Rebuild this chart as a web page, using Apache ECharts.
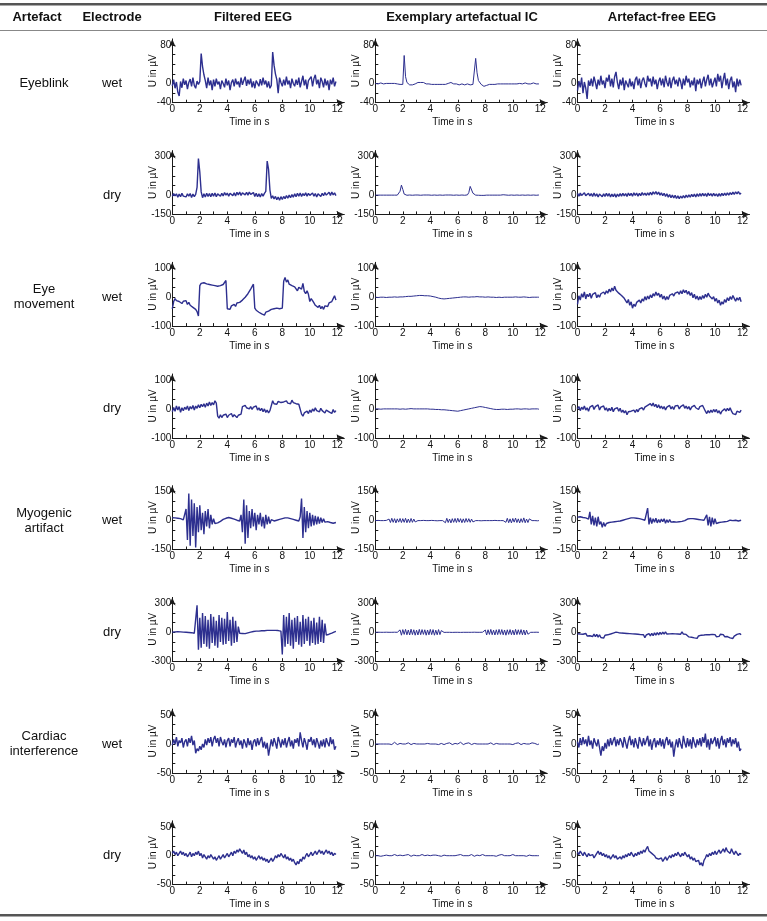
<!DOCTYPE html>
<html>
<head>
<meta charset="utf-8">
<script src="https://cdn.jsdelivr.net/npm/echarts@6/dist/echarts.min.js"></script>
<style>
html,body{margin:0;padding:0;background:#fff;}
#chart{width:767px;height:921px;}
</style>
</head>
<body>
<div id="chart"></div>
<script>
// ---------------- DATA ----------------
const STEP = 0.1; // seconds between samples
const columnTitles = ['Filtered EEG', 'Exemplary artefactual IC', 'Artefact-free EEG'];
const artefactLabels = [['Eyeblink'], ['Eye', 'movement'], ['Myogenic', 'artifact'], ['Cardiac', 'interference']];
const electrodeLabels = ['wet', 'dry', 'wet', 'dry', 'wet', 'dry', 'wet', 'dry'];
const yMin = [-40, -150, -100, -100, -150, -300, -50, -50];
const yMax = [80, 300, 100, 100, 150, 300, 50, 50];
const xTickValues = [0,1,2,3,4,5,6,7,8,9,10,11,12];
const xLabelValues = [0,2,4,6,8,10,12];

const blinkWetEEG = [
 -5, 8, -10, 3, -18, -26, 4, -9, 10, -3,
 6, -12, 2, 9, -6, 12, -4, -10, 5, -2,
 4, 62, 35, 18, 6, -10, 12, -4, 6, -14,
 8, -6, 10, -2, 4, -12, 6, 0, -8, 10,
 -4, 6, -14, 2, 8, -6, 10, -2, 4, -8,
 12, -3, 6, 14, -5, 8, -2, 10, -8, 4,
 -10, 6, 2, -6, 9, -4, 12, -2, 6, -8,
 4, -10, -4, 65, 38, 20, 8, -20, 12, 2,
 -6, 8, -4, 14, -2, 6, -10, 10, 0, -6,
 8, -3, 12, -8, 4, 16, -4, 8, -12, 6,
 2, 14, -6, 10, 18, -2, 8, -10, 12, 4,
 -8, 10, -4, 6, -14, 8, -2, 12, -6, 4];
const blinkWetIC = [
 0, 1, -1, 0, 1, 0, -1, 1, 0, -1,
 0, 1, 0, -1, 0, 1, -1, 0, -2, -3,
 -2, 58, 14, 2, -2, -3, -2, -3, -2, -1,
 0, 2, 3, 2, 1, 2, 0, -1, -2, -1,
 -2, -2, -1, -2, -3, -2, -1, -2, -3, -2,
 -1, -2, -1, 0, 1, 2, 0, -1, -2, -1,
 -2, -3, -2, -1, -2, -3, -2, -1, -2, -3,
 -1, -2, -3, 52, 22, 6, 2, -2, -5, -6,
 -5, -4, -3, -2, -3, -2, -1, -2, -3, -1,
 -2, -1, -2, -1, 0, -1, -2, -1, 0, -1,
 -2, -1, 0, -1, -2, 0, -1, -1, 0, 1,
 0, -1, 0, -1, 0, 1, 0, -1, 0, -1];
const blinkWetClean = [
 -15, 5, -8, 12, -20, 3, -10, -32, 6, -5,
 10, -6, 14, 2, -12, 8, -4, 16, -2, 6,
 -10, 12, 4, 18, -6, 10, -8, 14, 24, 2,
 -12, 8, -4, 12, -14, 6, 2, -8, 10, -6,
 4, -12, 8, 14, -4, 10, -10, 6, 12, 0,
 -8, 16, 4, 10, -6, 14, -2, 8, -12, 4,
 12, -4, 10, -8, 16, 2, -6, 12, -10, 6,
 14, -2, 8, -6, 12, 4, -12, 10, -4, 16,
 2, 10, -8, 6, -4, 12, -16, 8, -2, 10,
 -10, 4, 14, -6, 8, 18, -4, 10, -8, 2,
 12, -6, 20, 4, 16, -10, 8, 22, -4, 10,
 -12, 6, 14, -8, 4, -18, 10, -6, 8, -4];

const blinkDryEEG = [
 -10, 12, -6, 10, -16, 8, -12, 14, -8, 6,
 -14, 10, -8, 12, -18, 8, -12, 6, 60, 285,
 180, 25, -20, 10, -14, 14, -10, 12, -12, 14,
 -8, 16, -12, 10, 18, -8, 14, -6, 20, 0,
 16, -8, 14, 20, -4, 18, -6, 22, 2, 24,
 -2, 18, 24, 2, 22, 0, 24, 6, -4, 20,
 -10, 14, -12, 10, -14, 12, -8, 14, 30, 265,
 200, 40, -25, -5, -30, -10, -35, -15, -40, -12,
 -34, -10, -28, -4, -24, 0, -20, 4, -16, 10,
 -12, 14, -8, 16, -10, 12, -4, 18, -8, 14,
 -2, -12, 16, -8, 12, -14, 10, 18, -10, 14,
 -4, 20, 0, -10, 22, -2, 24, 2, 18, -4];
const blinkDryIC = [
 0, 1, 0, -1, 0, 1, 0, -1, 0, 1,
 0, -1, 0, 1, 0, -1, 0, 2, 30, 78,
 45, 8, 0, -1, 0, 1, 0, -1, 0, 1,
 0, 1, 0, -1, 0, 1, 2, 1, 0, 1,
 0, -1, 0, 1, 0, -1, 0, 1, 0, -1,
 0, 1, 0, 1, 2, 1, 0, -1, 0, 1,
 0, -1, 0, 1, 0, -1, 0, 2, 20, 68,
 55, 15, 2, 0, -2, -1, -3, -2, -1, -2,
 -1, 0, -1, 0, 1, 0, -1, 0, 1, 0,
 -1, 0, 1, 3, 2, 1, 0, -1, 0, 1,
 0, -1, 0, 1, 0, -1, 0, 1, 0, -1,
 0, 1, 0, -1, 0, 1, 0, -1, 0, 1];
const blinkDryClean = [
 14, -8, 16, -2, -10, 18, -4, -12, 14, -6,
 12, -10, 16, -8, 10, -14, 8, 12, -12, 10,
 -10, 14, -8, 12, -14, 8, -12, 10, -16, 8,
 -10, 12, -8, 14, -6, 12, -10, 16, -4, 14,
 -8, 18, -2, 16, -8, 14, -4, 20, 0, 16,
 -2, 18, 0, 22, 2, 26, 8, 28, 6, 24,
 0, 18, -4, 14, -10, 10, -16, 4, -20, 0,
 -22, -2, -26, -6, -28, -8, -24, -4, -22, 0,
 -18, 2, -16, 6, -12, 8, -14, 10, -10, 12,
 -8, 14, -6, 12, -10, 16, -4, 12, -8, 14,
 -6, 10, -10, 12, -8, 14, -4, 16, -2, 18,
 0, 20, 4, 24, 6, 26, 10, 28, 8, 16];

const moveWetEEG = [
 -40, -15, -5, -12, -8, -15, -10, -22, -14, -20,
 -12, -25, -18, -28, -22, -35, -30, -42, -50, -65,
 40, 48, 42, 50, 44, 46, 40, 44, 38, 42,
 36, 40, 34, 38, 32, 40, 36, 44, 48, 58,
 -40, -35, -42, -30, -36, -25, -32, -20, -26, -18,
 -22, -10, -14, 0, 6, 12, 20, 28, 34, 45,
 -38, -45, -40, -52, -48, -58, -55, -62, -52, -58,
 -48, -52, -42, -48, -40, -46, -38, -44, -40, -45,
 -38, 55, 68, 52, 60, 45, 50, 40, 44, 36,
 30, 22, 34, 40, 28, 48, 20, 12, 22, 10,
 -15, -5, -12, -20, -28, -22, -35, -28, -40, -32,
 -42, -30, -25, -32, -20, -26, -15, -5, 5, -10];
const moveWetIC = [
 0, 0, -1, 0, 0, 1, 0, 0, -1, 0,
 0, 1, 0, 0, 1, 0, 0, 1, 1, 1,
 1, 2, 2, 2, 3, 3, 3, 4, 4, 5,
 5, 5, 6, 6, 6, 6, 5, 5, 5, 4,
 4, 3, 2, 1, 0, -2, -3, -4, -5, -5,
 -6, -5, -5, -4, -4, -3, -3, -2, -2, -2,
 -1, -1, 0, 0, 1, 0, 1, 1, 0, 1,
 1, 2, 1, 1, 2, 1, 1, 2, 1, 1,
 0, 1, 1, 0, 0, 1, 0, 0, -1, 0,
 0, 0, -1, 0, 0, 1, 0, 0, 0, -1,
 0, 0, 1, 0, 0, -1, 0, 0, 1, 0,
 0, 0, -1, 0, 0, 1, 0, 0, 0, 0];
const moveWetClean = [
 -25, 5, -10, 12, 0, 18, -6, 10, 2, 14,
 -4, 10, 4, 16, -2, 8, 0, 12, 6, 18,
 10, 22, 14, 28, 18, 32, 22, 38, 24, 30,
 14, 20, 6, 10, -4, -12, -20, -8, -28, -16,
 -38, -24, -32, -18, -24, -10, -20, -6, -14, 2,
 -10, 4, -6, 8, -2, 12, 4, 18, 6, 14,
 0, 10, -6, 4, -10, 2, -8, 6, 0, 12,
 4, 14, 8, 18, 10, 22, 12, 26, 16, 24,
 10, 20, 6, 16, -2, 10, -6, 4, -10, 2,
 -8, 6, -4, 10, 0, 14, 4, 8, -6, 2,
 -14, -4, -20, -10, -28, -16, -24, -8, -18, -2,
 -12, 2, -8, 6, -4, -14, -2, -10, 0, -16];

const moveDryEEG = [
 -10, 5, -8, 10, -4, 8, -12, 4, -6, 6,
 -2, 10, -6, 8, 0, 12, -4, 10, 2, 14,
 4, 16, 8, 18, 6, 20, 10, 24, 12, 22,
 14, 28, 20, -25, -32, -20, -30, -22, -28, -18,
 -30, -22, -26, -16, -28, -20, -24, -30, -22, -26,
 -18, 8, 2, 12, 4, 10, 0, 8, -2, 6,
 2, 10, -4, 4, -6, 2, -10, 0, -12, -4,
 -14, -6, -10, 28, 18, 24, 16, 26, 20, 22,
 16, 24, 18, 28, 20, 26, 18, 30, 22, 26,
 18, 24, 16, 22, -18, -25, -14, -20, -8, -16,
 -4, -12, 0, -8, 4, -6, -2, -10, 2, -6,
 -2, -14, -4, 2, -10, -4, -16, -2, -12, -6];
const moveDryIC = [
 0, 1, 0, 0, -1, 0, 0, 1, 0, 0,
 0, -1, 0, 0, 0, 1, 0, 0, -1, 0,
 0, 0, -1, 0, 0, 0, 1, 0, 0, 0,
 0, 1, 0, 0, 0, -1, 0, 0, 0, -1,
 -1, 0, -1, -1, -2, -1, -2, -2, -3, -2,
 -3, -3, -4, -4, -5, -5, -6, -6, -7, -8,
 -8, -7, -6, -5, -4, -3, -2, -1, 0, 1,
 2, 3, 4, 5, 6, 7, 8, 8, 7, 6,
 5, 4, 3, 2, 1, 0, -1, -1, -2, -1,
 -2, -2, -1, -2, -1, -1, -2, -1, -1, 0,
 -1, -1, 0, -1, 0, 0, -1, 0, 0, -1,
 0, 0, -1, 0, 0, -1, 0, 0, 0, -1];
const moveDryClean = [
 0, 8, -6, 6, -2, 10, -4, 4, -8, 6,
 2, 12, -2, 8, 4, 14, -4, 6, 0, 10,
 -4, 4, -8, 2, -6, 6, -10, 0, -6, 4,
 -8, 2, -12, -4, -14, -6, -20, -10, -16, -8,
 -14, -4, -12, -2, -10, 0, -6, 4, -4, 6,
 2, 12, 6, 18, 10, 20, 8, 16, 4, 14,
 2, 10, 0, 8, -4, 6, 2, 12, 0, 8,
 -2, 10, 4, 12, 0, 8, 4, 14, 2, 10,
 0, 8, -4, 6, 2, 12, 4, 10, -2, 8,
 2, 12, 6, -8, -16, -6, -14, -4, -12, -2,
 -10, -2, -14, -6, -18, -8, -12, 0, -8, 2,
 -6, 4, -8, -16, -10, -20, -8, -2, -12, -4];

const myoWetEEG = [
 15, 12, 14, 10, 12, 8, 10, 6, 4, 2,
 60, -100, 140, -130, 110, -80, 90, -140, 70, -60,
 80, -50, 40, -70, 50, -30, 60, -40, 30, -20,
 10, -15, -10, -12, -8, -4, 2, 6, 10, 12,
 14, 16, 14, 12, 10, 8, 6, 2, 0, -2,
 30, -60, 110, -120, 80, -90, 50, -40, 60, -30,
 40, -50, 30, -20, 40, -30, 20, -40, 30, -20,
 20, -15, 5, -5, -2, 0, 2, 4, 6, 8,
 10, 12, 14, 16, 14, 12, 10, 8, 6, 4,
 2, 0, -2, 20, 115, -90, 70, -60, 50, -40,
 40, -30, 30, -25, 25, -20, 20, -15, 15, -10,
 10, -8, -2, -5, -8, -10, -12, -14, -12, -10];
const myoWetIC = [
 0, 0, 1, 0, 0, -1, 0, 0, 1, 0,
 8, -10, 12, -9, 10, -12, 9, -8, 11, -10,
 10, -9, 12, -11, 8, -10, 11, -9, 8, -7,
 0, 0, -1, 0, 0, 1, 0, 0, -1, 0,
 0, 1, 0, 0, 0, -1, 0, 0, 1, 0,
 9, -11, 12, -10, 8, -12, 10, -9, 11, -10,
 12, -8, 10, -11, 9, -10, 11, -8, 10, -9,
 8, -7, 0, 0, 1, 0, 0, -1, 0, 0,
 1, 0, 0, 0, -1, 0, 0, 1, 0, 0,
 0, 0, -1, 0, 10, -9, 12, -11, 9, -12,
 11, -8, 13, -10, 9, -12, 10, -9, 14, -11,
 8, -10, 9, 0, 0, 1, 0, 0, -1, 0];
const myoWetClean = [
 18, 16, 20, 14, 16, 12, 14, 10, 8, 45,
 -20, 25, -25, 15, -30, 20, -20, -5, -35, -10,
 -30, -15, -25, -10, -20, -8, -14, -6, -10, -4,
 -8, -2, 0, 2, 4, 6, 8, 10, 12, 14,
 16, 14, 16, 12, 14, 10, 8, 6, 4, 2,
 0, 65, -20, 15, -15, 10, -8, 12, -12, 6,
 -10, 8, -6, 10, -14, 4, -10, 6, -8, 2,
 -6, -4, -8, -2, -6, 0, -4, 2, 0, 4,
 8, 12, 10, 14, 10, 16, 8, 12, 6, 10,
 4, 8, 2, -5, 30, -25, 20, -30, 15, -20,
 10, -15, -5, -10, -2, -8, 0, -6, 2, -4,
 -2, 2, -4, 0, -2, 2, -4, -2, 0, 2];

const myoDryEEG = [
 0, 2, 4, 3, 5, 2, 4, 0, 2, -2,
 0, -4, -2, -6, -4, -8, -10, -8, 280, -180,
 150, -160, 200, -120, 170, -150, 130, -170, 190, -110,
 160, -140, 120, -160, 180, -100, 150, -130, 140, -120,
 210, -90, 130, -140, 160, -110, 120, -100, 60, -10,
 -15, -12, -18, -14, -10, -6, -2, 2, 6, 8,
 10, 12, 10, 12, 14, 16, 14, 16, 18, 20,
 18, 20, 22, 20, 18, 20, 22, 18, 16, 12,
 -230, 180, -150, 160, -120, 200, -140, 130, -170, 150,
 -100, 170, -130, 110, -150, 180, -120, 140, -90, 160,
 -140, 120, -110, 150, -130, 100, -120, 160, -100, 130,
 -110, 90, -30, -25, -20, -15, -8, -2, 5, 10];
const myoDryIC = [
 0, 0, 1, 0, 0, -1, 0, 0, 1, 0,
 0, -1, 0, 0, 1, 0, 0, 0, 25, -30,
 28, -22, 30, -26, 24, -28, 32, -24, 26, -30,
 22, -28, 30, -25, 28, -22, 26, -30, 24, -26,
 30, -24, 28, -30, 22, -26, 28, -24, 18, 0,
 -1, 0, 0, 1, 0, 0, -1, 0, 0, 1,
 0, 0, -1, 0, 0, 1, 0, 0, 0, -1,
 0, 0, 1, 0, 0, -1, 0, 0, 1, 0,
 24, -28, 26, -22, 30, -25, 22, -28, 26, -24,
 30, -22, 28, -26, 24, -30, 26, -22, 28, -25,
 22, -28, 30, -24, 26, -22, 28, -26, 24, -28,
 22, -20, 0, 0, -1, 0, 0, 1, 0, 0];
const myoDryClean = [
 -15, -30, -18, -34, -20, -36, -12, -38, -22, -36,
 -20, -44, -18, -46, -22, -50, -26, -54, -42, -60,
 -30, -46, -26, -36, -18, -28, -8, -20, 2, -14,
 -4, -24, -8, -28, -10, -26, -12, -32, -14, -30,
 -16, -34, -18, -38, -20, -40, -24, -44, -26, -55,
 -28, -42, -14, -38, -10, -34, -6, -30, -2, -26,
 0, -22, 2, -20, 4, -18, 2, -16, 0, -14,
 2, -16, 0, -18, -2, -20, 4, -18, 0, -22,
 -10, -48, -36, -52, -40, -58, -42, -62, -38, -52,
 -30, -48, -28, -42, -24, -44, -26, -40, -22, -42,
 -24, -46, -26, -42, -20, -40, -24, -46, -28, -44,
 -32, -58, -44, -64, -40, -50, -22, -40, -14, -26];

const cardWetEEG = [
 -2, 8, 0, 12, -4, 6, 2, 10, -6, 4,
 8, -4, 10, 2, 14, -2, 6, -16, -8, -12,
 -4, -10, 0, -6, 8, -2, 10, 2, 12, -4,
 8, 14, 2, 10, -4, 12, 4, -2, 8, -6,
 6, 10, -4, 8, 2, 12, -6, 4, 10, -2,
 6, -8, 8, 2, -6, 10, -2, 6, -10, 4,
 8, -4, 10, -2, 6, 12, -6, 4, -8, 2,
 -20, -6, 8, -4, 10, 2, -8, 12, 4, -6,
 8, -2, 10, -6, 4, 12, -4, 6, -8, 8,
 2, 10, -4, 20, 6, -6, 10, 2, -10, 8,
 4, 12, -2, 8, -6, 10, 2, -8, 6, -4,
 8, -6, 10, 2, -4, 12, 0, 8, -10, -4];
const cardWetIC = [
 0, 1, 0, -1, 0, 2, 0, -1, 0, 1,
 0, 1, -1, 0, 3, 0, -1, 0, 1, -1,
 0, 1, 0, -1, 2, 0, -1, 0, 1, 0,
 0, 1, 0, 2, 0, 3, 0, -1, 1, 0,
 0, -1, 0, 1, 0, 2, -1, 0, 1, 0,
 -1, 0, 1, 0, 2, 0, -1, 0, 1, 0,
 0, 1, 3, 0, -1, 0, 1, 0, 2, 0,
 -1, 0, 1, 0, 0, 2, 0, -1, 0, 1,
 0, -1, 0, 1, 2, 0, -1, 0, 1, 0,
 0, 1, 0, 2, 0, -1, 0, 1, 0, 0,
 -1, 0, 1, 0, 2, 0, -1, 0, 1, 0,
 0, 1, 0, -1, 2, 0, 1, 0, -1, 0];
const cardWetClean = [
 4, -6, 10, -2, 12, 0, 8, -4, 14, -2,
 6, -8, 10, 2, -4, 8, -6, -20, -4, -12,
 2, -8, 8, -4, 10, -2, 6, 12, -4, 8,
 -2, 10, 4, -6, 12, 2, -8, 6, 14, -2,
 8, -6, 10, 0, -8, 12, 4, -4, 10, -2,
 6, 14, -4, 8, -10, 4, 10, -6, 6, -2,
 10, -4, 8, -8, 6, 12, -2, 8, -6, 4,
 -22, -4, 8, -6, 10, 0, -8, 14, 2, -6,
 10, -4, 8, -8, 12, 2, -6, 8, -2, 10,
 -4, 12, 2, 18, -6, 8, -10, 10, 0, 6,
 12, -4, 10, -8, 6, 14, -2, 8, -6, 10,
 2, 12, -4, 8, 0, 10, -6, 4, -12, -8];

const cardDryEEG = [
 4, 8, 2, 6, 0, 4, 8, 2, 6, 0,
 4, -2, 2, 6, -2, 4, 0, 6, 2, 8,
 0, 4, -4, 2, -2, -6, 0, -4, 2, -2,
 -6, -2, -8, -4, 0, -6, -2, 2, -4, 0,
 4, -2, 2, 6, 0, 8, 4, 10, 6, 12,
 8, 4, 10, 2, 6, -2, 2, -4, 0, -6,
 -2, -8, -4, 0, -6, -2, -8, -4, -10, -6,
 -12, -8, -4, -10, -6, 0, -4, 2, -2, 4,
 0, -4, 2, -6, -2, -8, -4, -10, -6, -12,
 -16, -10, -14, -6, -10, -2, -6, 0, 4, -2,
 2, 6, 0, 4, 8, 2, 6, 10, 4, 8,
 2, 6, 10, 4, 8, 2, 6, 0, 4, 2];
const cardDryIC = [
 0, 1, 0, 0, -1, 1, 0, 0, 1, 0,
 0, 1, 0, -1, 2, 0, 0, -1, 1, 0,
 0, 0, 1, 0, 2, 0, -1, 0, 1, 0,
 0, 1, 0, 0, 2, 0, 0, -1, 1, 0,
 0, 0, 1, 0, 1, 2, 0, 0, -1, 0,
 1, 0, 0, 2, 0, -1, 0, 1, 0, 0,
 1, 0, 2, 0, 0, -1, 0, 1, 0, 0,
 2, 0, -1, 0, 1, 0, 0, 1, 2, 0,
 0, -1, 0, 1, 0, 2, 0, 0, -1, 0,
 1, 0, 2, 0, 0, -1, 0, 1, 0, 0,
 2, 0, 0, -1, 0, 1, 0, 2, 0, 0,
 -1, 0, 1, 0, 0, 2, 0, -1, 0, 0];
const cardDryClean = [
 6, 2, 8, 4, 0, 6, 2, -2, 4, 0,
 -2, 2, -4, 0, 4, 8, 2, 6, 0, 4,
 -2, 2, -4, 0, -6, -2, 2, -4, 0, -6,
 -8, -2, -6, 0, -4, 2, -2, 4, 0, 6,
 2, -2, 4, 0, 6, 2, 8, 4, 10, 6,
 12, 16, 8, 10, 4, 6, 0, -4, -2, -6,
 -8, -4, -10, -6, -2, -8, -4, 0, -4, 2,
 -2, 4, 0, 6, 2, -2, 4, 0, 6, 2,
 -2, 2, -6, -2, -8, -4, -10, -12, -8, -16,
 -12, -18, -8, -4, 2, -2, 4, 0, 6, 2,
 8, 2, 6, 10, 4, 8, 12, 6, 14, 8,
 10, 4, 12, 6, 2, 8, 4, 0, 4, 2];

const signals = [
  [blinkWetEEG, blinkWetIC, blinkWetClean],
  [blinkDryEEG, blinkDryIC, blinkDryClean],
  [moveWetEEG, moveWetIC, moveWetClean],
  [moveDryEEG, moveDryIC, moveDryClean],
  [myoWetEEG, myoWetIC, myoWetClean],
  [myoDryEEG, myoDryIC, myoDryClean],
  [cardWetEEG, cardWetIC, cardWetClean],
  [cardDryEEG, cardDryIC, cardDryClean]
];

// ---------------- LAYOUT ----------------
const FONT = '"Liberation Sans", Arial, Helvetica, sans-serif';
const LINE_COLOR = '#2d2f8f';
const AXIS_COLOR = '#1a1a1a';
const BASE0 = 102.7, ROW_STEP = 111.7, PLOT_H = 57.8, PLOT_W = 165;
const COL_X = [172.3, 375.3, 577.5];
const XEXT = 7, YEXT = 6;

const grids = [], xAxes = [], yAxes = [], series = [];
for (let r = 0; r < 8; r++) {
  const bottom = BASE0 + ROW_STEP * r;
  const range = yMax[r] - yMin[r];
  const yInt = range / 6;
  const yTicks = [];
  for (let k = 0; k <= 6; k++) yTicks.push(yMin[r] + k * yInt);
  for (let c = 0; c < 3; c++) {
    const idx = grids.length;
    grids.push({left: COL_X[c], top: bottom - PLOT_H - YEXT, width: PLOT_W + XEXT, height: PLOT_H + YEXT, containLabel: false});
    xAxes.push({
      gridIndex: idx, type: 'value', min: 0, max: 12 * (PLOT_W + XEXT) / PLOT_W,
      axisLine: {show: true, onZero: false, symbol: ['none', 'arrow'], symbolSize: [5, 8], lineStyle: {color: AXIS_COLOR, width: 1}},
      axisTick: {show: true, inside: true, length: 3, customValues: xTickValues, lineStyle: {color: AXIS_COLOR, width: 1}},
      axisLabel: {customValues: xLabelValues, margin: 2, fontSize: 10, color: '#111', fontFamily: FONT},
      splitLine: {show: false},
      name: 'Time in s', nameLocation: 'middle', nameGap: 15, nameMoveOverlap: false,
      nameTextStyle: {fontSize: 10, color: '#111', fontFamily: FONT, padding: [0, 18, 0, 0]}
    });
    yAxes.push({
      gridIndex: idx, type: 'value', min: yMin[r], max: yMax[r] + range * YEXT / PLOT_H,
      axisLine: {show: true, onZero: false, symbol: ['none', 'arrow'], symbolSize: [5, 8], lineStyle: {color: AXIS_COLOR, width: 1}},
      axisTick: {show: true, inside: true, length: 3, customValues: yTicks, lineStyle: {color: AXIS_COLOR, width: 1}},
      axisLabel: {customValues: [yMin[r], 0, yMax[r]], margin: 1, fontSize: 10, color: '#111', fontFamily: FONT,
        formatter: v => String(Math.round(v))},
      splitLine: {show: false},
      name: 'U in µV', nameLocation: 'middle', nameGap: 14, nameMoveOverlap: false,
      nameTextStyle: {fontSize: 10, color: '#111', fontFamily: FONT}
    });
    series.push({
      type: 'line', xAxisIndex: idx, yAxisIndex: idx,
      data: signals[r][c].map((v, i) => [Math.round(i * STEP * 100) / 100, v]),
      showSymbol: false, symbol: 'none', silent: true,
      lineStyle: {color: LINE_COLOR, width: c === 1 ? 1.0 : 1.4}
    });
  }
}

// header and row labels
const graphics = [];
graphics.push({type: 'rect', shape: {x: 0, y: 3, width: 767, height: 2.5}, style: {fill: '#555'}});
graphics.push({type: 'rect', shape: {x: 0, y: 30, width: 767, height: 1}, style: {fill: '#888'}});
graphics.push({type: 'rect', shape: {x: 0, y: 914, width: 767, height: 2.5}, style: {fill: '#555'}});
const headerX = [37, 112, 253, 462, 662];
const headerTexts = ['Artefact', 'Electrode'].concat(columnTitles);
headerTexts.forEach((t, i) => graphics.push({type: 'text', x: headerX[i], y: 17,
  style: {text: t, fill: '#111', font: 'bold 13px ' + FONT, textAlign: 'center', textVerticalAlign: 'middle'}}));
for (let g = 0; g < 4; g++) {
  const zeroY = BASE0 + ROW_STEP * (2 * g) - PLOT_H * (0 - yMin[2 * g]) / (yMax[2 * g] - yMin[2 * g]);
  graphics.push({type: 'text', x: 44, y: zeroY,
    style: {text: artefactLabels[g].join('\n'), fill: '#111', font: '13px ' + FONT, textAlign: 'center', textVerticalAlign: 'middle', lineHeight: 15}});
}
for (let r = 0; r < 8; r++) {
  const zeroY = BASE0 + ROW_STEP * r - PLOT_H * (0 - yMin[r]) / (yMax[r] - yMin[r]);
  graphics.push({type: 'text', x: 112, y: zeroY,
    style: {text: electrodeLabels[r], fill: '#111', font: '13px ' + FONT, textAlign: 'center', textVerticalAlign: 'middle'}});
}

const chart = echarts.init(document.getElementById('chart'), null, {renderer: 'canvas', width: 767, height: 921});
chart.setOption({
  animation: false,
  backgroundColor: '#fff',
  grid: grids, xAxis: xAxes, yAxis: yAxes, series: series,
  graphic: graphics
});
</script>
</body>
</html>
